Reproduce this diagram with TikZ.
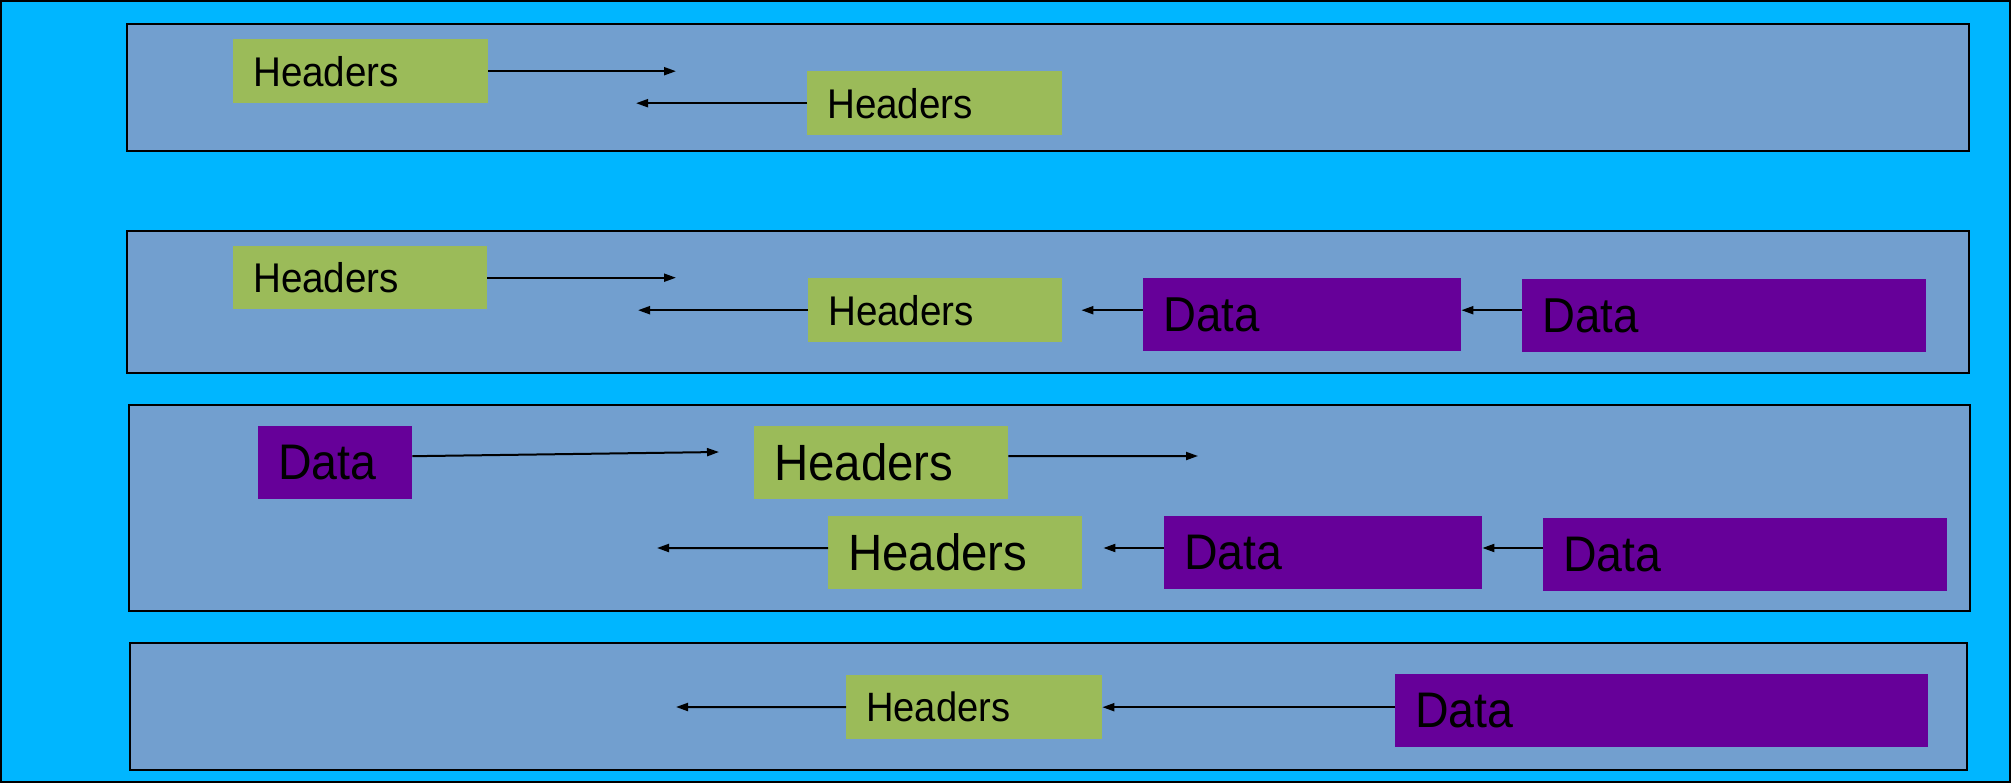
\documentclass[tikz,border=0pt]{standalone}
\usepackage{fontspec}
\usepackage{graphicx}
\setmainfont{Liberation Sans}
\usetikzlibrary{arrows.meta}
\definecolor{skyblue}{RGB}{0,182,255}
\definecolor{panelblue}{RGB}{114,159,207}
\definecolor{hdrgreen}{RGB}{155,187,89}
\definecolor{datapurple}{RGB}{102,0,153}
\tikzset{
  panel/.style={draw=black, line width=2pt, fill=panelblue},
  hdr/.style={fill=hdrgreen, inner sep=0pt},
  dat/.style={fill=datapurple, inner sep=0pt},
  arr/.style={line width=2pt, -{Triangle[length=12pt,width=8pt]}},
}
% \blk{name}{x}{y}{width}{height}{style}{font size}{text}
% text is left aligned with a 20pt pad and slightly narrowed
\newcommand\blk[8]{%
  \node[#6, minimum width=#4pt, minimum height=#5pt, anchor=north west,
        font=\fontsize{#7}{#7}\selectfont] (#1) at (#2,#3)
        {\hbox to #4pt{\hskip 20pt \scalebox{0.93}[1]{#8}\hfil}};}
\begin{document}
\begin{tikzpicture}[x=1pt,y=-1pt]
\useasboundingbox (0,0) rectangle (2011,783);
\fill[skyblue] (0,0) rectangle (2011,783);
\draw[line width=2pt] (1,1) rectangle (2010,782);

% panels
\draw[panel] (127,24) rectangle (1969,151);
\draw[panel] (127,231) rectangle (1969,373);
\draw[panel] (129,405) rectangle (1970,611);
\draw[panel] (130,643) rectangle (1967,770);

% panel 1
\blk{hA}{233}{39}{255}{64}{hdr}{41.5}{Headers}
\blk{hB}{807}{71}{255}{64}{hdr}{41.5}{Headers}
\coordinate (tA) at (676,71);
\coordinate (tB) at (636,103);
\draw[arr] (hA.east) -- (hA.east -| tA);
\draw[arr] (hB.west) -- (hB.west -| tB);

% panel 2
\blk{hC}{233}{246}{254}{63}{hdr}{41.5}{Headers}
\blk{hD}{808}{278}{254}{64}{hdr}{41.5}{Headers}
\blk{dA}{1143}{278}{318}{73}{dat}{49}{Data}
\blk{dB}{1522}{279}{404}{73}{dat}{49}{Data}
\coordinate (tC) at (676,278);
\coordinate (tD) at (638,309);
\draw[arr] (hC.east) -- (hC.east -| tC);
\draw[arr] (hD.west) -- (hD.west -| tD);
\draw[arr, shorten >=19pt] (dA.west |- hD.east) -- (hD.east);
\draw[arr] (dB.west |- hD.east) -- (dA.east |- hD.east);

% panel 3
\blk{dC}{258}{426}{154}{73}{dat}{50}{Data}
\blk{hE}{754}{426}{254}{73}{hdr}{51}{Headers}
\blk{hF}{828}{516}{254}{73}{hdr}{51}{Headers}
\blk{dD}{1164}{516}{318}{73}{dat}{50}{Data}
\blk{dE}{1543}{518}{404}{73}{dat}{50}{Data}
\coordinate (tE) at (719,452);
\coordinate (tF) at (1198,456);
\coordinate (tG) at (657,548);
\draw[arr] ([yshift=6.5pt]dC.east) -- (tE);
\draw[arr] ([yshift=6.5pt]hE.east) -- (tF);
\draw[arr] ([yshift=4.5pt]hF.west) -- (tG);
\draw[arr, shorten >=21pt] (dD.west |- tG) -- (hF.east |- tG);
\draw[arr] (dE.west |- tG) -- (dD.east |- tG);

% panel 4
\blk{hG}{846}{675}{256}{64}{hdr}{41}{Headers}
\blk{dF}{1395}{674}{533}{73}{dat}{50}{Data}
\coordinate (tH) at (676,707);
\draw[arr] (hG.west) -- (tH);
\draw[arr] (dF.west |- hG.east) -- (hG.east);
\end{tikzpicture}
\end{document}
